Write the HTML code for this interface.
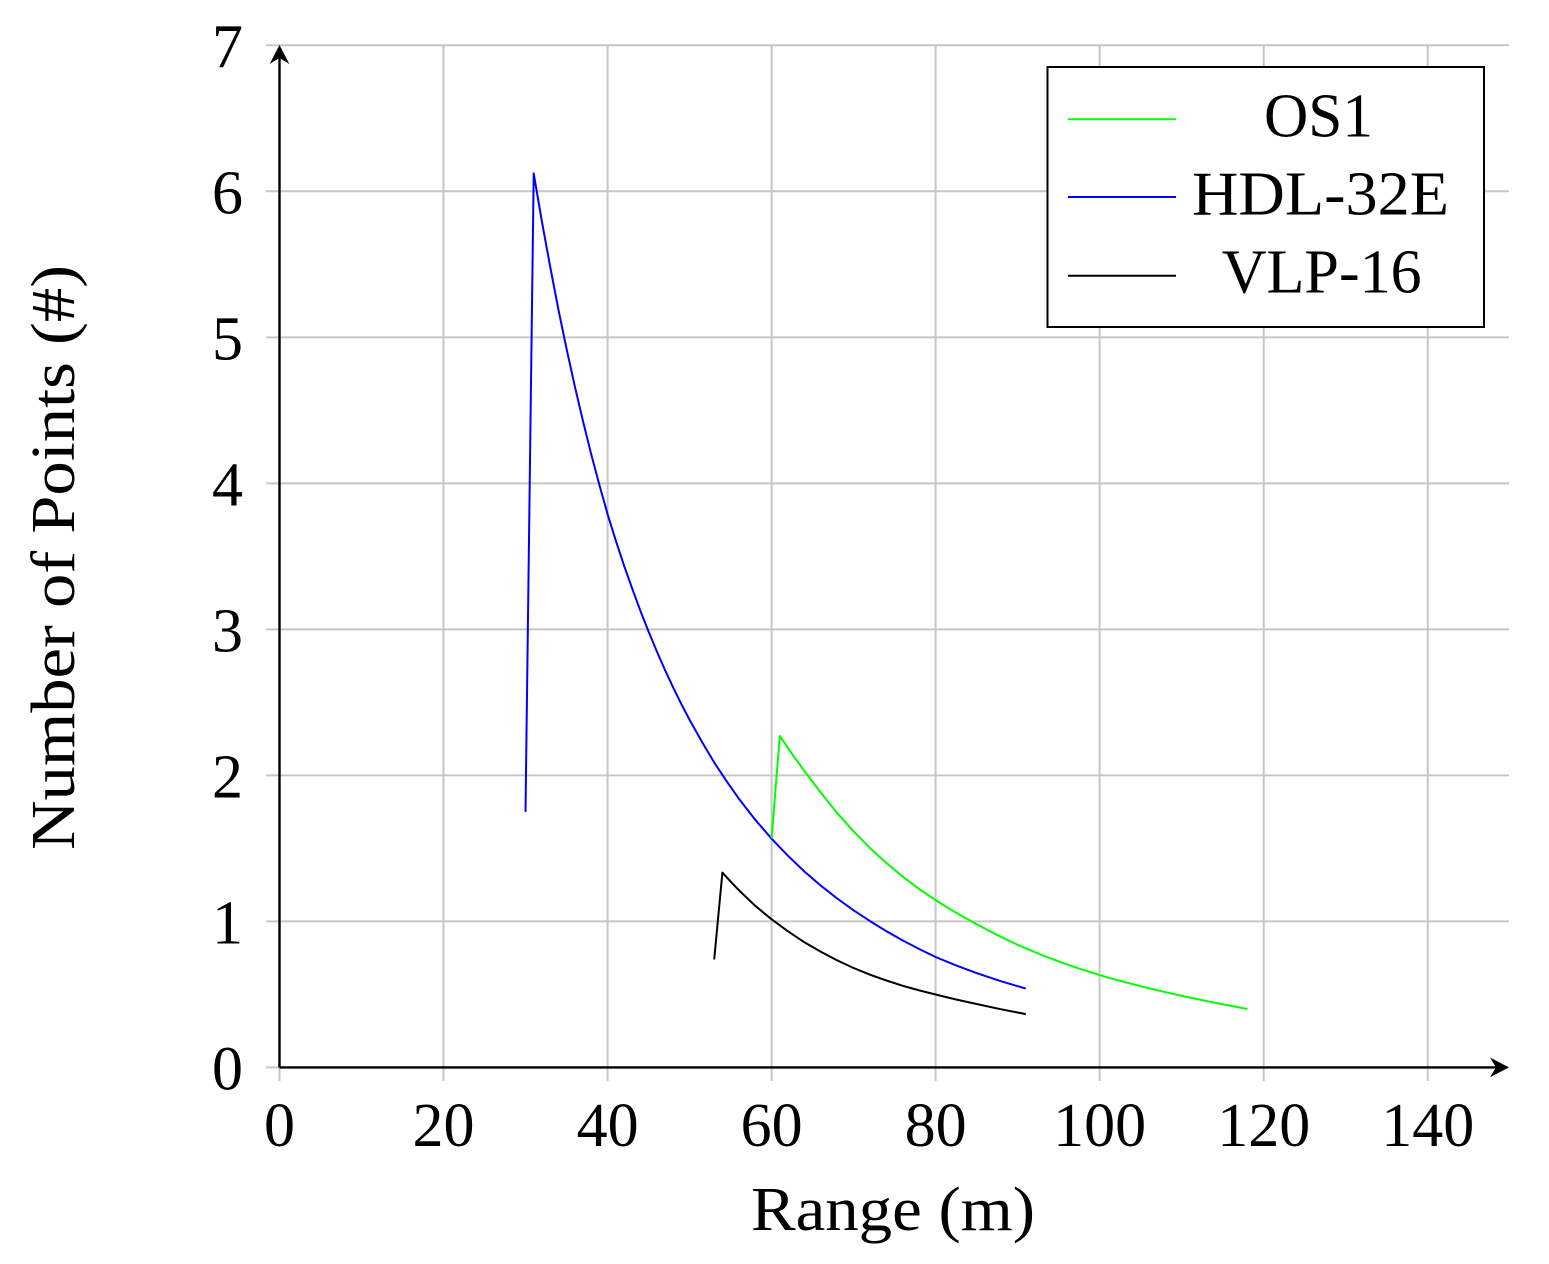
<!DOCTYPE html>
<html>
<head>
<meta charset="utf-8">
<style>
  html,body{margin:0;padding:0;background:#fff;}
  svg{display:block;}
  text{font-family:"Liberation Serif","DejaVu Serif",serif;fill:#000;}
</style>
</head>
<body>
<svg width="1549" height="1264" viewBox="0 0 1549 1264" xmlns="http://www.w3.org/2000/svg">
  <rect x="0" y="0" width="1549" height="1264" fill="#fff"/>

  <!-- grid: horizontal -->
  <g stroke="#c6c6c6" stroke-width="2" fill="none">
    <line x1="266" y1="1067.4" x2="280" y2="1067.4"/>
    <line x1="266" y1="921.4" x2="1509" y2="921.4"/>
    <line x1="266" y1="775.4" x2="1509" y2="775.4"/>
    <line x1="266" y1="629.4" x2="1509" y2="629.4"/>
    <line x1="266" y1="483.4" x2="1509" y2="483.4"/>
    <line x1="266" y1="337.4" x2="1509" y2="337.4"/>
    <line x1="266" y1="191.3" x2="1509" y2="191.3"/>
    <line x1="266" y1="45.3" x2="1509" y2="45.3"/>
    <!-- vertical -->
    <line x1="279.5" y1="1067" x2="279.5" y2="1081"/>
    <line x1="443.5" y1="45.3" x2="443.5" y2="1081"/>
    <line x1="607.6" y1="45.3" x2="607.6" y2="1081"/>
    <line x1="771.6" y1="45.3" x2="771.6" y2="1081"/>
    <line x1="935.6" y1="45.3" x2="935.6" y2="1081"/>
    <line x1="1099.6" y1="45.3" x2="1099.6" y2="1081"/>
    <line x1="1263.7" y1="45.3" x2="1263.7" y2="1081"/>
    <line x1="1427.7" y1="45.3" x2="1427.7" y2="1081"/>
  </g>

  <!-- axes -->
  <g stroke="#000" stroke-width="2.4" fill="none" stroke-linecap="butt">
    <line x1="279.5" y1="1067.4" x2="1497" y2="1067.4"/>
    <line x1="279.5" y1="1067.4" x2="279.5" y2="56"/>
  </g>
  <path d="M1509,1067.4 L1490,1057.5 L1496,1067.4 L1490,1077.3 Z" fill="#000"/>
  <path d="M279.5,45 L269.6,64 L279.5,58 L289.4,64 Z" fill="#000"/>

  <!-- series -->
  <g fill="none" stroke-width="2" stroke-linejoin="round" stroke-linecap="butt">
    <polyline stroke="#0000ff" points="525.5,811.9 533.7,173.4 542.0,222.1 550.2,266.8 558.4,309.5 566.6,348.9 574.8,386.3 583.0,421.2 591.2,454.2 599.4,485.0 607.6,514.2 615.8,540.6 624.0,565.4 632.2,588.6 640.4,610.8 648.6,631.6 656.8,651.4 665.0,670.0 673.2,687.6 681.4,704.2 689.6,719.9 701.9,741.8 714.2,762.4 726.5,781.1 738.8,798.6 755.2,819.7 771.6,838.7 788.0,855.8 804.4,871.5 820.8,885.6 837.2,898.5 853.6,910.3 870.0,921.1 886.4,931.2 902.8,940.5 919.2,949.0 935.6,957.0 956.1,965.4 976.6,973.1 1001.2,981.3 1025.8,988.6"/>
    <polyline stroke="#00ff00" points="771.6,838.2 779.8,736.0 792.1,754.0 804.4,771.0 820.8,792.6 837.2,813.1 853.6,831.3 870.0,848.1 886.4,863.0 902.8,876.7 919.2,889.0 935.6,900.1 956.1,912.8 976.6,924.3 997.1,935.0 1017.6,944.8 1038.1,953.5 1058.6,961.4 1079.1,968.6 1099.6,975.1 1120.1,980.9 1140.6,986.2 1161.1,991.2 1181.7,995.9 1214.5,1002.7 1247.3,1009.0"/>
    <polyline stroke="#000000" points="714.2,959.5 722.4,872.6 730.6,881.6 738.8,890.1 755.2,905.8 771.6,919.3 788.0,931.3 804.4,942.3 820.8,951.8 837.2,960.4 853.6,968.0 870.0,974.7 886.4,980.5 902.8,985.8 919.2,990.4 935.6,994.5 956.1,999.5 976.6,1004.0 1001.2,1009.3 1025.8,1014.1"/>
  </g>

  <!-- y tick labels -->
  <g font-size="62" text-anchor="end">
    <text x="243" y="1089.4">0</text>
    <text x="243" y="943.4">1</text>
    <text x="243" y="797.4">2</text>
    <text x="243" y="651.4">3</text>
    <text x="243" y="505.4">4</text>
    <text x="243" y="359.4">5</text>
    <text x="243" y="213.3">6</text>
    <text x="243" y="67.3">7</text>
  </g>

  <!-- x tick labels -->
  <g font-size="62" text-anchor="middle">
    <text x="279.5" y="1146">0</text>
    <text x="443.5" y="1146">20</text>
    <text x="607.6" y="1146">40</text>
    <text x="771.6" y="1146">60</text>
    <text x="935.6" y="1146">80</text>
    <text x="1099.6" y="1146">100</text>
    <text x="1263.7" y="1146">120</text>
    <text x="1427.7" y="1146">140</text>
  </g>

  <!-- axis titles -->
  <text x="751" y="1230" font-size="62" textLength="284" lengthAdjust="spacingAndGlyphs">Range (m)</text>
  <text transform="translate(74,557.5) rotate(-90)" x="0" y="0" font-size="62" text-anchor="middle" textLength="585" lengthAdjust="spacingAndGlyphs">Number of Points (#)</text>

  <!-- legend -->
  <rect x="1047.5" y="67" width="436.5" height="260" fill="#fff" stroke="#000" stroke-width="2"/>
  <g stroke-width="2">
    <line x1="1068" y1="119.3" x2="1176" y2="119.3" stroke="#00ff00"/>
    <line x1="1068" y1="197" x2="1176" y2="197" stroke="#0000ff"/>
    <line x1="1068" y1="275.7" x2="1176" y2="275.7" stroke="#000"/>
  </g>
  <g font-size="62" text-anchor="middle">
    <text x="1318.5" y="136.5" textLength="109" lengthAdjust="spacingAndGlyphs">OS1</text>
    <text x="1320.5" y="214.5" textLength="257" lengthAdjust="spacingAndGlyphs">HDL-32E</text>
    <text x="1321.7" y="292.5" textLength="200" lengthAdjust="spacingAndGlyphs">VLP-16</text>
  </g>
</svg>
</body>
</html>
